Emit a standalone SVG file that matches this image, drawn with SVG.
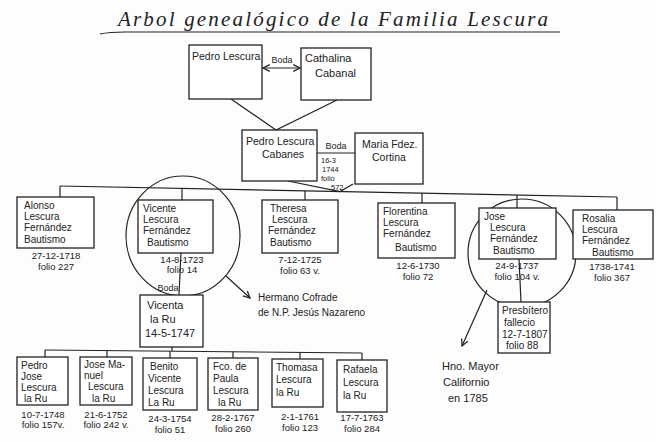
<svg xmlns="http://www.w3.org/2000/svg" width="656" height="442" viewBox="0 0 656 442">
<style>
text{font-family:"Liberation Sans",Arial,sans-serif;fill:#222;}
.n{font-size:11px;}
.s{font-size:10px;}
.d{font-size:9.5px;text-anchor:middle;}
.m{font-size:7.5px;}
.b{fill:#fff;stroke:#222;stroke-width:1.3;}
.l{fill:none;stroke:#222;stroke-width:1.2;}
.t{font-family:"Liberation Serif",serif;font-style:italic;font-size:21px;}
</style>
<defs>
<marker id="ah" viewBox="0 0 10 10" refX="9" refY="5" markerWidth="7" markerHeight="7" orient="auto-start-reverse">
<path d="M1,1 L9,5 L1,9" fill="none" stroke="#222" stroke-width="1.5"/>
</marker>
</defs>
<rect width="656" height="442" fill="#fdfdfd"/>
<g id="title">
<text class="t" x="118" y="26" textLength="430">Arbol genealógico de la Familia Lescura</text>
<path class="l" d="M100,34 Q110,32 125,32 L560,32"/>
</g>
<g id="connectors">
<line class="l" x1="263" y1="68" x2="300" y2="68" marker-start="url(#ah)" marker-end="url(#ah)"/>
<path class="l" d="M231,99 L276,130 L337,100"/>
<line class="l" x1="317" y1="153" x2="355" y2="153"/>
<path class="l" d="M288,181 L340,191.5 L353,184"/>
<line class="l" x1="60" y1="186" x2="617" y2="197"/>
<line class="l" x1="60" y1="186" x2="60" y2="197"/>
<line class="l" x1="182" y1="188.4" x2="182" y2="200"/>
<line class="l" x1="305" y1="190.8" x2="305" y2="200"/>
<line class="l" x1="422" y1="193.1" x2="422" y2="203"/>
<line class="l" x1="517" y1="195" x2="517" y2="208"/>
<line class="l" x1="617" y1="197" x2="617" y2="210"/>
<line class="l" x1="181" y1="253" x2="179" y2="295"/>
<ellipse class="l" cx="183" cy="236" rx="57" ry="60"/>
<line class="l" x1="226" y1="276" x2="250" y2="298" marker-end="url(#ah)"/>
<line class="l" x1="519" y1="259" x2="521" y2="302"/>
<circle class="l" cx="522" cy="253" r="54"/>
<line class="l" x1="487" y1="290" x2="462" y2="346" marker-end="url(#ah)"/>
<line class="l" x1="172" y1="347" x2="172" y2="351"/>
<line class="l" x1="45" y1="350" x2="362" y2="353"/>
<line class="l" x1="45" y1="350" x2="45" y2="357"/>
<line class="l" x1="107" y1="350.6" x2="107" y2="357"/>
<line class="l" x1="170" y1="351.2" x2="170" y2="358"/>
<line class="l" x1="233" y1="351.8" x2="233" y2="358"/>
<line class="l" x1="300" y1="352.4" x2="300" y2="359"/>
<line class="l" x1="362" y1="353" x2="362" y2="360"/>
</g>
<g id="boda1"><text x="282" y="63" text-anchor="middle" font-size="9">Boda</text></g>
<g id="pedro">
<rect class="b" x="189" y="45" width="73" height="54"/>
<text x="192" y="60" font-size="10.5">Pedro Lescura</text>
</g>
<g id="cathalina">
<rect class="b" x="301" y="48" width="70" height="52"/>
<text class="n" x="305" y="62">Cathalina</text>
<text class="n" x="315" y="77">Cabanal</text>
</g>
<g id="pedro2">
<rect class="b" x="242" y="130" width="75" height="51"/>
<text x="246" y="145" font-size="10.5">Pedro Lescura</text>
<text x="262" y="158" font-size="10.5">Cabanes</text>
</g>
<g id="maria">
<rect class="b" x="355" y="133" width="68" height="51"/>
<text x="362" y="148" font-size="10.5">Maria Fdez.</text>
<text x="372" y="161" font-size="10.5">Cortina</text>
</g>
<g id="boda2">
<text x="336" y="149" text-anchor="middle" font-size="9">Boda</text>
<text class="m" x="321" y="163">16-3</text>
<text class="m" x="322" y="172">1744</text>
<text class="m" x="321" y="181">folio</text>
<text class="m" x="331" y="190">572</text>
</g>
<g id="alonso">
<rect class="b" x="17" y="197" width="77" height="51"/>
<text class="s" x="24" y="209">Alonso</text>
<text class="s" x="24" y="220">Lescura</text>
<text class="s" x="24" y="231">Fernández</text>
<text class="s" x="24" y="243">Bautismo</text>
<text class="d" x="56" y="259">27-12-1718</text>
<text class="d" x="56" y="270">folio 227</text>
</g>
<g id="vicente">
<rect class="b" x="138" y="200" width="75" height="53"/>
<text class="s" x="143" y="212">Vicente</text>
<text class="s" x="143" y="223">Lescura</text>
<text class="s" x="143" y="234">Fernández</text>
<text class="s" x="147" y="246">Bautismo</text>
<text class="d" x="182" y="263">14-8-1723</text>
<text class="d" x="182" y="273">folio 14</text>
</g>
<g id="theresa">
<rect class="b" x="262" y="200" width="76" height="53"/>
<text class="s" x="270" y="212">Theresa</text>
<text class="s" x="272" y="223">Lescura</text>
<text class="s" x="268" y="234">Fernández</text>
<text class="s" x="270" y="246">Bautismo</text>
<text class="d" x="300" y="263">7-12-1725</text>
<text class="d" x="300" y="274">folio 63 v.</text>
</g>
<g id="florentina">
<rect class="b" x="378" y="203" width="77" height="55"/>
<text class="s" x="383" y="215">Florentina</text>
<text class="s" x="383" y="226">Lescura</text>
<text class="s" x="383" y="237">Fernández</text>
<text class="s" x="395" y="251">Bautismo</text>
<text class="d" x="418" y="269">12-6-1730</text>
<text class="d" x="418" y="280">folio 72</text>
</g>
<g id="jose">
<rect class="b" x="479" y="208" width="77" height="51"/>
<text class="s" x="484" y="220">Jose</text>
<text class="s" x="490" y="231">Lescura</text>
<text class="s" x="490" y="242">Fernández</text>
<text class="s" x="493" y="254">Bautismo</text>
<text class="d" x="517" y="269">24-9-1737</text>
<text class="d" x="517" y="280">folio 104 v.</text>
</g>
<g id="rosalia">
<rect class="b" x="573" y="210" width="80" height="49"/>
<text class="s" x="582" y="222">Rosalia</text>
<text class="s" x="582" y="233">Lescura</text>
<text class="s" x="582" y="244">Fernández</text>
<text class="s" x="592" y="256">Bautismo</text>
<text class="d" x="612" y="270">1738-1741</text>
<text class="d" x="612" y="281">folio 367</text>
</g>
<g id="boda3"><text x="168" y="291" text-anchor="middle" font-size="9">Boda</text></g>
<g id="vicenta">
<rect class="b" x="140" y="295" width="63" height="52"/>
<text class="n" x="147" y="309">Vicenta</text>
<text class="n" x="150" y="323">la Ru</text>
<text class="n" x="145" y="337">14-5-1747</text>
</g>
<g id="hermano">
<text class="s" x="258" y="301">Hermano Cofrade</text>
<text class="s" x="258" y="316">de N.P. Jesús Nazareno</text>
</g>
<g id="presbitero">
<rect class="b" x="498" y="302" width="52" height="51"/>
<text class="s" x="502" y="314">Presbítero</text>
<text class="s" x="504" y="326">fallecio</text>
<text class="s" x="502" y="338">12-7-1807</text>
<text class="s" x="506" y="349">folio 88</text>
</g>
<g id="hno">
<text class="n" x="442" y="370">Hno. Mayor</text>
<text class="n" x="443" y="386">Californio</text>
<text class="n" x="448" y="402">en 1785</text>
</g>
<g id="pedrojose">
<rect class="b" x="17" y="357" width="51" height="48"/>
<text class="s" x="21" y="369">Pedro</text>
<text class="s" x="21" y="380">Jose</text>
<text class="s" x="21" y="391">Lescura</text>
<text class="s" x="24" y="402">la Ru</text>
<text class="d" x="43" y="418">10-7-1748</text>
<text class="d" x="43" y="428">folio 157v.</text>
</g>
<g id="josemanuel">
<rect class="b" x="80" y="357" width="52" height="48"/>
<text class="s" x="84" y="368">Jose Ma-</text>
<text class="s" x="84" y="379">nuel</text>
<text class="s" x="88" y="390">Lescura</text>
<text class="s" x="92" y="402">la Ru</text>
<text class="d" x="106" y="418">21-6-1752</text>
<text class="d" x="106" y="428">folio 242 v.</text>
</g>
<g id="benito">
<rect class="b" x="143" y="358" width="54" height="52"/>
<text class="s" x="150" y="370">Benito</text>
<text class="s" x="148" y="382">Vicente</text>
<text class="s" x="148" y="394">Lescura</text>
<text class="s" x="148" y="406">La Ru</text>
<text class="d" x="170" y="422">24-3-1754</text>
<text class="d" x="170" y="433">folio 51</text>
</g>
<g id="fco">
<rect class="b" x="208" y="358" width="50" height="52"/>
<text class="s" x="213" y="370">Fco. de</text>
<text class="s" x="213" y="382">Paula</text>
<text class="s" x="213" y="394">Lescura</text>
<text class="s" x="218" y="406">la Ru</text>
<text class="d" x="233" y="421">28-2-1767</text>
<text class="d" x="233" y="432">folio 260</text>
</g>
<g id="thomasa">
<rect class="b" x="272" y="359" width="51" height="48"/>
<text class="s" x="276" y="371">Thomasa</text>
<text class="s" x="276" y="383">Lescura</text>
<text class="s" x="276" y="396">la Ru</text>
<text class="d" x="300" y="420">2-1-1761</text>
<text class="d" x="300" y="431">folio 123</text>
</g>
<g id="rafaela">
<rect class="b" x="337" y="360" width="50" height="52"/>
<text class="s" x="343" y="373">Rafaela</text>
<text class="s" x="343" y="386">Lescura</text>
<text class="s" x="343" y="399">la Ru</text>
<text class="d" x="362" y="421">17-7-1763</text>
<text class="d" x="362" y="432">folio 284</text>
</g>
</svg>
